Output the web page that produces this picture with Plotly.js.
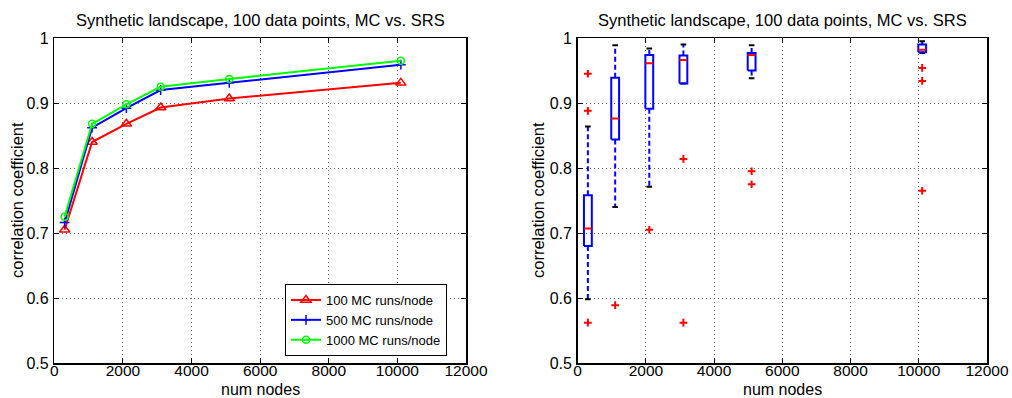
<!DOCTYPE html>
<html>
<head>
<meta charset="utf-8">
<script src="https://cdn.plot.ly/plotly-3.0.1.min.js"></script>
<style>html,body{margin:0;padding:0;background:#fff}#chart{width:1012px;height:398px}</style>
</head>
<body>
<div id="chart"></div>
<script>
// ---- data ----
const titleText = "Synthetic landscape, 100 data points, MC vs. SRS";
const xLabel = "num nodes";
const yLabel = "correlation coefficient";
const numNodes = [300, 1100, 2100, 3100, 5100, 10100];
const seriesNames = ["100 MC runs/node", "500 MC runs/node", "1000 MC runs/node"];
const mc100 = [0.705, 0.840, 0.868, 0.893, 0.907, 0.931];
const mc500 = [0.716, 0.862, 0.892, 0.920, 0.931, 0.959];
const mc1000 = [0.725, 0.868, 0.898, 0.925, 0.937, 0.965];

const boxX = [300, 1100, 2100, 3100, 5100, 10100];
const boxLowerWhisker = [0.598, 0.740, 0.771, 0.930, 0.938, 0.977];
const boxQ1 = [0.680, 0.844, 0.891, 0.930, 0.950, 0.978];
const boxMedian = [0.707, 0.876, 0.961, 0.966, 0.974, 0.982];
const boxQ3 = [0.758, 0.939, 0.974, 0.973, 0.977, 0.990];
const boxUpperWhisker = [0.864, 0.989, 0.984, 0.990, 0.989, 0.995];
const outlierX = [300, 300, 300, 1100, 2100, 3100, 3100, 5100, 5100, 10100, 10100, 10100];
const outlierY = [0.945, 0.888, 0.562, 0.589, 0.705, 0.814, 0.562, 0.795, 0.775, 0.954, 0.934, 0.765];

const xTickVals = [0, 2000, 4000, 6000, 8000, 10000, 12000];
const yTickVals = [0.5, 0.6, 0.7, 0.8, 0.9, 1.0];
const yTickText = ["0.5", "0.6", "0.7", "0.8", "0.9", "1"];

// ---- styling ----
const FONT = "Liberation Sans, Arial, Helvetica, sans-serif";
const RED = "#ff0000", BLUE = "#0000ff", GREEN = "#00ff00";
const halfW = 115;

const traces = [];
traces.push({x: numNodes, y: mc100, name: seriesNames[0], type: "scatter", mode: "lines+markers",
  line: {color: RED, width: 2}, marker: {symbol: "triangle-up-open", size: 9, color: RED, line: {width: 1.5, color: RED}},
  xaxis: "x", yaxis: "y"});
traces.push({x: numNodes, y: mc500, name: seriesNames[1], type: "scatter", mode: "lines+markers",
  line: {color: BLUE, width: 2}, marker: {symbol: "cross-thin-open", size: 7, color: BLUE, line: {width: 1.5, color: BLUE}},
  xaxis: "x", yaxis: "y"});
traces.push({x: numNodes, y: mc1000, name: seriesNames[2], type: "scatter", mode: "lines+markers",
  line: {color: GREEN, width: 2}, marker: {symbol: "circle-open", size: 7, color: GREEN, line: {width: 1.5, color: GREEN}},
  xaxis: "x", yaxis: "y"});

// box plot built from arrays
const bx = [], by = [], mx = [], my = [], wx = [], wy = [], cx = [], cy = [];
boxX.forEach((x, i) => {
  bx.push(x - halfW, x + halfW, x + halfW, x - halfW, x - halfW, null);
  by.push(boxQ1[i], boxQ1[i], boxQ3[i], boxQ3[i], boxQ1[i], null);
  mx.push(x - halfW, x + halfW, null);
  my.push(boxMedian[i], boxMedian[i], null);
  wx.push(x, x, null, x, x, null);
  wy.push(boxQ3[i], boxUpperWhisker[i], null, boxQ1[i], boxLowerWhisker[i], null);
  cx.push(x, x);
  cy.push(boxUpperWhisker[i], boxLowerWhisker[i]);
});
traces.push({x: wx, y: wy, type: "scatter", mode: "lines", line: {color: BLUE, width: 2, dash: "5px,3px"},
  showlegend: false, hoverinfo: "skip", xaxis: "x2", yaxis: "y2"});
traces.push({x: cx, y: cy, type: "scatter", mode: "markers", marker: {symbol: "line-ew-open", size: 4, color: "#000", line: {width: 2, color: "#000"}},
  showlegend: false, xaxis: "x2", yaxis: "y2"});
traces.push({x: bx, y: by, type: "scatter", mode: "lines", line: {color: BLUE, width: 2},
  showlegend: false, xaxis: "x2", yaxis: "y2"});
traces.push({x: mx, y: my, type: "scatter", mode: "lines", line: {color: RED, width: 2},
  showlegend: false, xaxis: "x2", yaxis: "y2"});
traces.push({x: outlierX, y: outlierY, type: "scatter", mode: "markers",
  marker: {symbol: "cross-thin-open", size: 5.5, color: RED, line: {width: 2, color: RED}},
  showlegend: false, xaxis: "x2", yaxis: "y2"});

function xa(domain) {
  return {domain: domain, range: [0, 12000], tickvals: xTickVals, tickformat: "d",
    showline: true, linecolor: "#000", linewidth: 1.5, mirror: "ticks", ticks: "inside", ticklen: 5, tickcolor: "#000", tickwidth: 1,
    showgrid: true, gridcolor: "#666", griddash: "1px,3px", gridwidth: 1, zeroline: false,
    tickfont: {family: FONT, size: 15.5, color: "#000"}, ticklabelstandoff: -7};
}
function ya(domain, anchor) {
  return {domain: domain, anchor: anchor, range: [0.5, 1], tickvals: yTickVals, ticktext: yTickText,
    showline: true, linecolor: "#000", linewidth: 1.5, mirror: "ticks", ticks: "inside", ticklen: 5, tickcolor: "#000", tickwidth: 1,
    showgrid: true, gridcolor: "#666", griddash: "1px,3px", gridwidth: 1, zeroline: false,
    tickfont: {family: FONT, size: 16, color: "#000"}, ticklabelstandoff: 1};
}

const yDom = [0.0879, 0.9045];
function note(text, xPx, yPx, angle, size) {
  return {text: text, xref: "paper", yref: "paper", x: xPx / 1012, y: 1 - yPx / 398, xanchor: "center", yanchor: "middle",
    showarrow: false, textangle: angle || 0, font: {family: FONT, size: size || 16.5, color: "#000"}};
}
const layout = {
  width: 1012, height: 398,
  margin: {l: 0, r: 0, t: 0, b: 0},
  paper_bgcolor: "#fff", plot_bgcolor: "#fff",
  font: {family: FONT, size: 16, color: "#000"},
  xaxis: Object.assign(xa([0.0537, 0.4605]), {anchor: "y"}),
  yaxis: ya(yDom, "x"),
  xaxis2: Object.assign(xa([0.5708, 0.9753]), {anchor: "y2"}),
  yaxis2: ya(yDom, "x2"),
  showlegend: true,
  legend: {x: 447 / 1012, xanchor: "right", y: 1 - 356 / 398, yanchor: "bottom", bgcolor: "#fff", bordercolor: "#000", borderwidth: 1,
    font: {family: FONT, size: 13, color: "#000"}, tracegroupgap: 0, itemwidth: 30},
  annotations: [
    note(titleText, 260, 20),
    note(titleText, 782, 20),
    note(xLabel, 260, 389, 0, 16),
    note(xLabel, 782, 389, 0, 16),
    note(yLabel, 17, 200, -90),
    note(yLabel, 538, 200, -90)
  ]
};

Plotly.newPlot("chart", traces, layout, {displayModeBar: false, staticPlot: true});
</script>
</body>
</html>
